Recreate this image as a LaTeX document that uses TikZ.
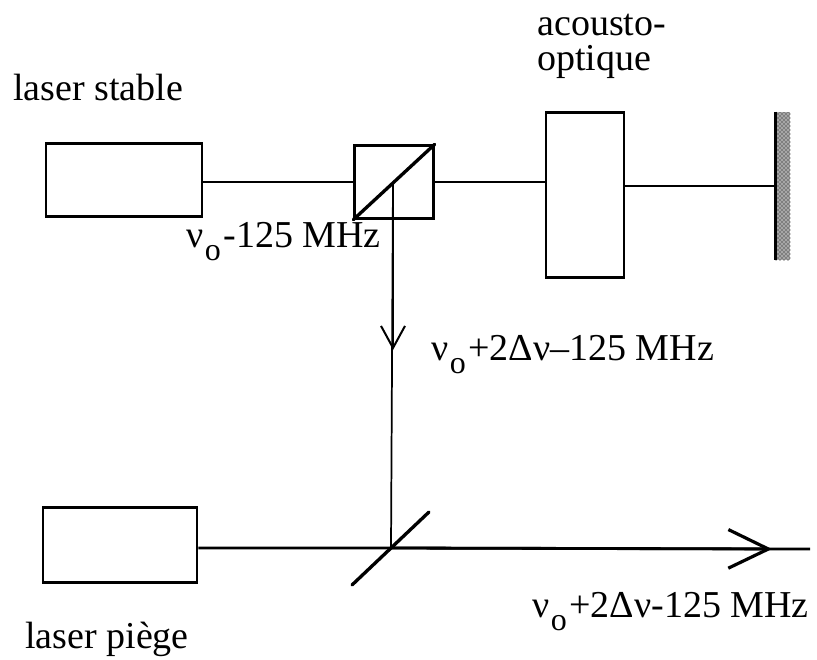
\documentclass[tikz,border=0pt]{standalone}
\usepackage{fontspec}
\setmainfont{Liberation Serif}
\usepackage{tikz}
\usetikzlibrary{arrows.meta, positioning, patterns}
\newcommand{\nuo}{ν\kern1pt\raisebox{-9.75pt}{\fontsize{24}{26}\selectfont o}\kern2pt}
\tikzset{
  labeltxt/.style={font=\fontsize{28.5}{26.25}\selectfont,inner sep=0pt,align=left},
  boxnode/.style={draw,line width=1.9pt,inner sep=0pt},
  beam/.style={line width=1.3pt},
  strongbeam/.style={line width=2.1pt},
  diagline/.style={line width=2.5pt,line cap=round},
  smallarrow/.style={-{Straight Barb[length=16.5pt,width=18pt,line width=1.5pt]}},
  bigarrow/.style={-{Straight Barb[length=30pt,width=29pt,line width=2.4pt]}},
}
\begin{document}
\begin{tikzpicture}[x=0.75pt,y=-0.75pt]
      \useasboundingbox (0,0) rectangle (817,660);
      % boxes
      \node[boxnode,minimum width=117pt,minimum height=55pt] (stable) at (124,180) {};
      \node[boxnode,minimum width=115.5pt,minimum height=56pt] (piege) at (120,545) {};
      \node[boxnode,minimum width=59pt,minimum height=54.5pt] (cube) at (394,182) {};
      \node[boxnode,minimum width=58.5pt,minimum height=124pt] (aom) at (585,195) {};
      \node[draw=none,preaction={fill=black!35},pattern=crosshatch dots,pattern color=black,minimum width=11pt,minimum height=111pt,inner sep=0pt] (mirror) at (783,186) {};
      \coordinate (split) at (393,182);
      \coordinate (merge) at (391,548);
      \coordinate (out) at (810,549);
      \coordinate (mlow) at (352,585);
      \coordinate (mhigh) at (429,512);

      % beams
      \draw[line width=2.3pt] (mirror.north west) -- (mirror.south west);
      \draw[beam] (stable.east |- split) -- (cube.west |- split);
      \draw[beam] (cube.east) -- (aom.west |- cube.east);
      \draw[beam] (aom.east |- mirror.west) -- (mirror.west);
      \draw[diagline] (cube.south west) -- (cube.north east);
      \draw[beam] (split) -- (merge);
      \draw[beam,smallarrow] (split) -- (393,350);
      \draw[strongbeam] (piege.east |- merge) -- (merge) -- (out);
      \draw[strongbeam,bigarrow] (merge) -- (772,549);
      \draw[diagline] (mlow) -- (mhigh);

      % labels
      \node[labeltxt,anchor=base west] (lstable) at (13,100) {laser stable};
      \node[labeltxt,anchor=base west] (lpiege) at (25,648) {laser piège};
      \node[labeltxt,anchor=base west] (laom) at (537,70) {acousto-\\optique};
      \node[labeltxt,anchor=base west] (lfa) at (186,247) {\nuo-125 MHz};
      \node[labeltxt,anchor=base west] (lfb) at (431,360) {\nuo+2Δν–125 MHz};
      \node[labeltxt,anchor=base west] (lfc) at (532,617) {\nuo+2Δν-125 MHz};
    \end{tikzpicture}
\end{document}
